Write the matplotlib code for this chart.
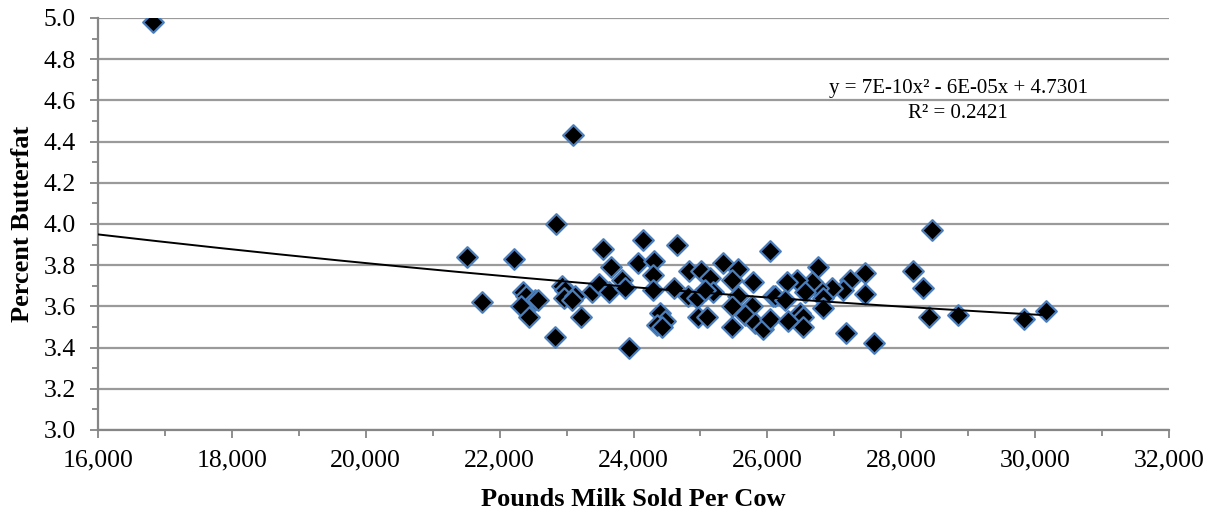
import matplotlib
matplotlib.use("Agg")
import matplotlib.pyplot as plt
import numpy as np
from matplotlib.ticker import FuncFormatter, MultipleLocator

plt.rcParams['font.family'] = ['Liberation Serif', 'DejaVu Serif']

# Pounds of milk sold per cow for each herd
milk_sold = [
    16820, 21510, 21740, 22210, 22840, 23100,
    22350, 22390, 22530, 22570, 22320, 22440, 22830,
    22930, 22980, 22960, 23130, 23080, 23220,
    23380, 23480, 23540, 23660, 23630,
    24140, 24650, 24070, 24310, 24290, 23830, 23870, 24290, 24600,
    24830, 25010, 25140, 25340, 25560, 25470, 25790, 26040,
    24810, 24950, 25190, 25070, 25560, 25470, 25770, 26080,
    24400, 24470, 24350, 24430, 24960, 25100, 25470, 25670, 25810, 25930, 26040, 23930,
    26760, 28180, 28320, 27460, 27230, 27130, 27460, 26970, 26760, 26670, 26440,
    26290, 26560, 26110, 26260, 26830, 26830, 26490, 26530, 26530, 26310, 27170,
    27590, 28410,
    28460, 28850, 29830, 30160,
]

# Butterfat percentage for each herd
butterfat = [
    4.98, 3.84, 3.62, 3.83, 4.00, 4.43,
    3.67, 3.65, 3.63, 3.63, 3.60, 3.55, 3.45,
    3.70, 3.68, 3.64, 3.65, 3.63, 3.55,
    3.67, 3.71, 3.88, 3.79, 3.67,
    3.92, 3.90, 3.81, 3.82, 3.75, 3.73, 3.69, 3.68, 3.69,
    3.77, 3.77, 3.74, 3.81, 3.78, 3.73, 3.72, 3.87,
    3.65, 3.64, 3.67, 3.68, 3.65, 3.60, 3.60, 3.65,
    3.57, 3.53, 3.51, 3.50, 3.55, 3.55, 3.50, 3.56, 3.52, 3.49, 3.54, 3.40,
    3.79, 3.77, 3.69, 3.76, 3.73, 3.68, 3.66, 3.69, 3.69, 3.72, 3.73,
    3.72, 3.67, 3.65, 3.63, 3.64, 3.59, 3.57, 3.55, 3.50, 3.53, 3.47,
    3.42, 3.55,
    3.97, 3.56, 3.54, 3.58,
]

# Polynomial trendline coefficients (a*x^2 + b*x + c) and fit quality
trend_coef = [7e-10, -6e-05, 4.7301]
r_squared = 0.2421

fig = plt.figure(figsize=(12.21, 5.13), dpi=100)
ax = fig.add_axes([0.0803, 0.1618, 0.8771, 0.8032])

grid_color = '#9a9a9a'
axis_color = '#868686'

ax.set_xlim(16000, 32000)
ax.set_ylim(3.0, 5.0)
ax.yaxis.set_major_locator(MultipleLocator(0.2))
ax.yaxis.set_minor_locator(MultipleLocator(0.1))
ax.xaxis.set_major_locator(MultipleLocator(2000))
ax.xaxis.set_minor_locator(MultipleLocator(1000))
ax.yaxis.set_major_formatter(FuncFormatter(lambda v, p: f"{v:.1f}"))
ax.xaxis.set_major_formatter(FuncFormatter(lambda v, p: f"{v:,.0f}"))

ax.grid(axis='y', which='major', color=grid_color, linewidth=1.6, zorder=0)
ax.set_axisbelow(True)
for side in ('top', 'right'):
    ax.spines[side].set_visible(False)
for side in ('left', 'bottom'):
    ax.spines[side].set_color(axis_color)
    ax.spines[side].set_linewidth(1.6)

ax.tick_params(axis='both', which='both', direction='out', color=axis_color, width=1.3)
ax.tick_params(axis='both', which='major', length=6, labelsize=18.5, labelcolor='black')
ax.tick_params(axis='both', which='minor', length=4)
ax.tick_params(axis='x', which='major', pad=8)
ax.tick_params(axis='y', which='major', pad=10)

ax.scatter(milk_sold, butterfat, marker='D', s=110, facecolor='black',
           edgecolor='#4a7ebb', linewidth=1.6, zorder=3)

xs = np.linspace(16000, max(milk_sold), 300)
ys = np.polyval(trend_coef, xs)
ax.plot(xs, ys, color='black', linewidth=1.4, zorder=4)

eq_label = "y = 7E-10x² - 6E-05x + 4.7301"
r2_label = f"R² = {r_squared:.4f}"
ax.text(0.803, 0.851, eq_label + "\n" + r2_label,
        transform=ax.transAxes, ha='center', va='top', fontsize=15,
        linespacing=1.4)

ax.set_xlabel("Pounds Milk Sold Per Cow", fontsize=19, fontweight='bold', labelpad=12)
ax.set_ylabel("Percent Butterfat", fontsize=19, fontweight='bold', labelpad=7)

fig.savefig("out.png", dpi=100)
